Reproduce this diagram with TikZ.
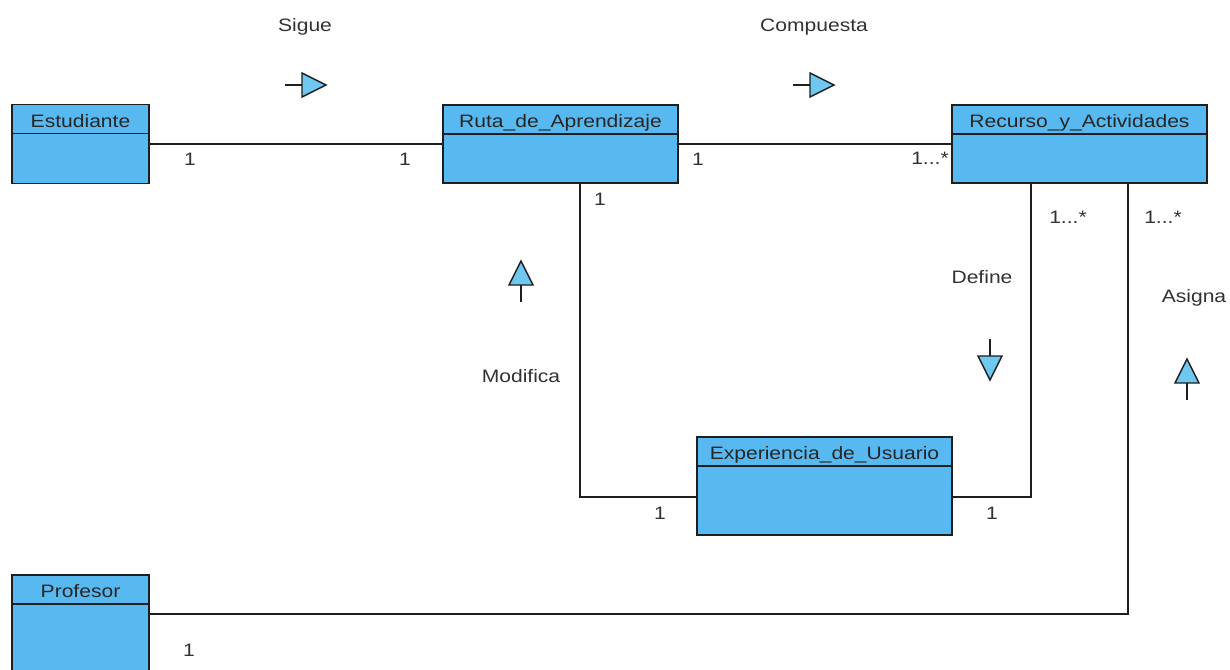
\documentclass[tikz,border=0pt]{standalone}
\usepackage{fontspec}
\setmainfont{Liberation Sans}[FakeStretch=1.17]
\usetikzlibrary{calc}
\definecolor{classfill}{RGB}{88,185,240}
\definecolor{trifill}{RGB}{110,200,240}
\definecolor{edgeline}{RGB}{30,30,30}
\definecolor{labeltext}{RGB}{50,50,50}
\tikzset{
  classbody/.style={draw=edgeline, line width=1.6pt, fill=classfill, rectangle,
    inner sep=0pt, outer sep=0pt},
  classhead/.style={rectangle, inner sep=0pt, outer sep=0pt, minimum height=29pt,
    text height=16pt, text depth=0pt,
    anchor=north, text=black!85, font=\fontsize{18}{21}\selectfont},
  headrule/.style={draw=edgeline, line width=1.6pt},
  assoc/.style={draw=edgeline, line width=1.4pt},
  mult/.style={text=labeltext, font=\fontsize{18}{21}\selectfont, inner sep=0pt},
  relname/.style={text=labeltext, font=\fontsize{18}{21}\selectfont, inner sep=0pt},
  navstem/.style={draw=edgeline, line width=1.4pt},
  navtri/.style={draw=edgeline, line width=1.4pt, fill=trifill, line join=miter},
}
\begin{document}
\begin{tikzpicture}[x=1pt, y=-1pt]
\useasboundingbox (0,0) rectangle (1230,669);

% class boxes
\node[classbody, minimum width=137pt, minimum height=79pt] (est) at (80.5,144) {};
\node[classbody, minimum width=235pt, minimum height=78pt] (ruta) at (560.5,144) {};
\node[classbody, minimum width=255pt, minimum height=78pt] (rec) at (1079.5,144) {};
\node[classbody, minimum width=255pt, minimum height=98pt] (exp) at (824.5,486) {};
\node[classbody, minimum width=137pt, minimum height=105pt] (prof) at (80.5,627.5) {};

% class names and header rules
\foreach \c/\t in {est/Estudiante, ruta/Ruta\_de\_Aprendizaje, rec/Recurso\_y\_Actividades,
                   exp/Experiencia\_de\_Usuario, prof/Profesor} {
  \path let \p1 = ($(\c.north east)-(\c.north west)$) in
    node[classhead, minimum width=\x1] (\c-h) at (\c.north) {\t};
  \draw[headrule] (\c-h.south west) -- (\c-h.south east);
}

% associations
\draw[assoc] (est.east) -- (ruta.west);
\draw[assoc] (ruta.east) -- (rec.west);
\draw[assoc] ([xshift=19.5pt]ruta.south) |- ([yshift=-11pt]exp.west);
\draw[assoc] ([xshift=-48.5pt]rec.south) |- ([yshift=-11pt]exp.east);
\draw[assoc] ([xshift=48.5pt]rec.south) |- ([yshift=13.5pt]prof.east);

% multiplicities
\node[mult] (m1) at (190,159) {1};
\node[mult] (m2) at (405,159) {1};
\node[mult] (m3) at (698,159) {1};
\node[mult] (m4) at (930,158) {1...*};
\node[mult] (m5) at (600,199) {1};
\node[mult] (m6) at (1068,217) {1...*};
\node[mult] (m7) at (1163,217) {1...*};
\node[mult] (m8) at (660,513) {1};
\node[mult] (m9) at (992,513) {1};
\node[mult] (m10) at (189,650) {1};

% association names
\node[relname] (sigue) at (305,27) {Sigue};
\node[relname] (comp) at (814,27) {Compuesta};
\node[relname] (modif) at (521,376) {Modifica};
\node[relname] (define) at (982,277) {Define};
\node[relname] (asigna) at (1194,298) {Asigna};

% reading-direction triangles
\draw[navstem] (285,85) -- (302,85);
\filldraw[navtri] (302,73) -- (326,85) -- (302,97) -- cycle;
\draw[navstem] (793,85) -- (810,85);
\filldraw[navtri] (810,73) -- (834,85) -- (810,97) -- cycle;
\draw[navstem] (521,302) -- (521,285);
\filldraw[navtri] (509,285) -- (521,261) -- (533,285) -- cycle;
\draw[navstem] (990,339) -- (990,356);
\filldraw[navtri] (978,356) -- (990,380) -- (1002,356) -- cycle;
\draw[navstem] (1187,400) -- (1187,383);
\filldraw[navtri] (1175,383) -- (1187,359) -- (1199,383) -- cycle;
\end{tikzpicture}
\end{document}
